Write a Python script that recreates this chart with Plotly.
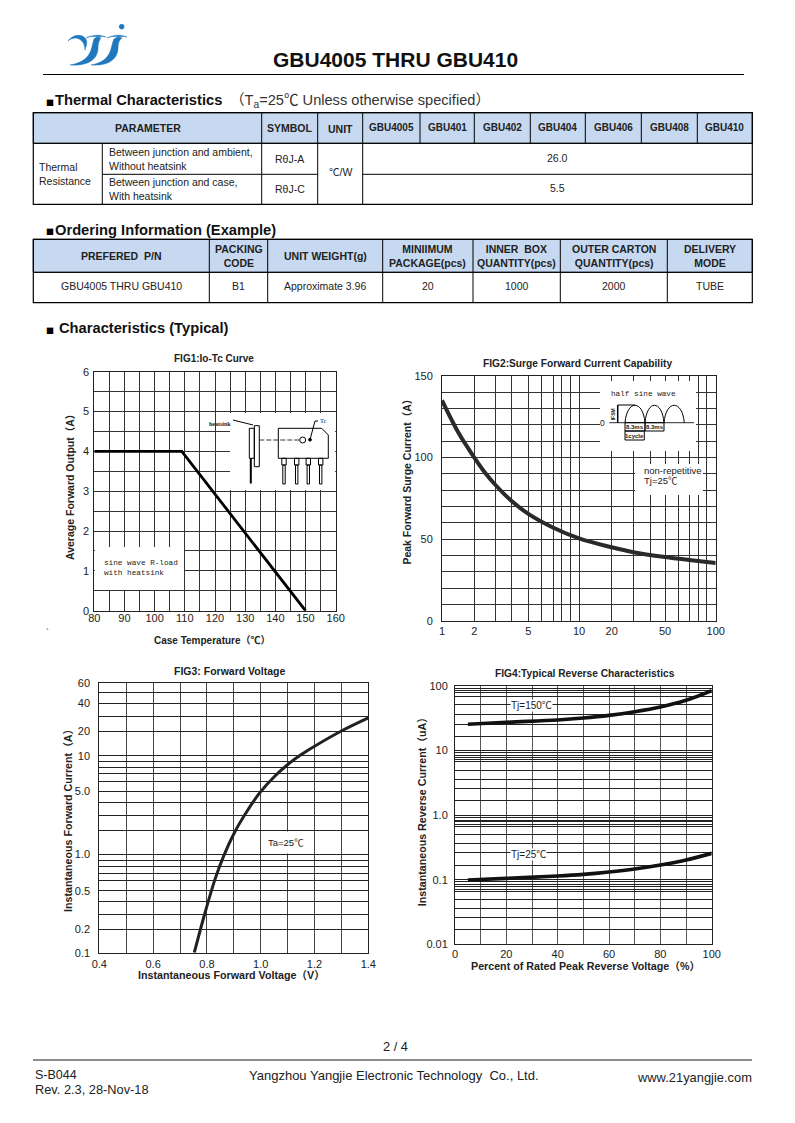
import numpy as np
import plotly.graph_objects as go

# ---------- data ----------
fig1_temp = [80, 109, 150]
fig1_amps = [4, 4, 0]
fig1_xgrid = list(range(80, 165, 5))
fig1_ygrid = [0, 0.5, 1, 1.5, 2, 2.5, 3, 3.5, 4, 4.5, 5, 5.5, 6]
fig1_xlabels = [80, 90, 100, 110, 120, 130, 140, 150, 160]
fig1_ylabels = [0, 1, 2, 3, 4, 5, 6]

# the printed log scales are hand-drawn: label value -> distance along the axis
fig2_scale_vals = [1, 2, 3, 4, 5, 6, 7, 8, 9, 10, 20, 30, 40, 50, 60, 70, 80, 90, 100]
fig2_scale_pos = [141, 238, 300, 349, 400, 440, 475, 500, 525, 552, 650, 715, 765, 810, 850, 882, 910, 935, 962]
fig2_xlabels = [1, 2, 5, 10, 20, 50, 100]
fig2_cycles = [1, 1.5, 2, 2.5, 3, 4, 5, 7, 10, 20, 30, 50, 70, 100]
fig2_amps = [135, 115.5, 100, 91, 83.5, 73.5, 65.5, 57, 50.5, 45, 42, 39, 37.2, 35.4]
fig2_ygrid = list(range(0, 160, 10))
fig2_ylabels = [0, 50, 100, 150]

fig3_scale_vals = [0.1, 0.2, 0.3, 0.4, 0.5, 0.6, 0.7, 0.8, 0.9, 1, 2, 3, 4, 5, 6, 7, 8, 9, 10, 20, 30, 40, 50, 60]
fig3_scale_pos = [878, 808, 764, 724, 692, 661, 639, 620, 601, 582, 511, 467, 427, 393, 365, 341, 322, 304, 287, 214, 170, 130, 98, 68]
fig3_ylabels = {0.1: "0.1", 0.2: "0.2", 0.5: "0.5", 1: "1.0", 5: "5.0", 10: "10", 20: "20", 40: "40", 60: "60"}
fig3_xgrid = [0.4, 0.5, 0.6, 0.7, 0.8, 0.9, 1.0, 1.1, 1.2, 1.3, 1.4]
fig3_xlabels = {0.4: "0.4", 0.6: "0.6", 0.8: "0.8", 1.0: "1.0", 1.2: "1.2", 1.4: "1.4"}
fig3_volts = [0.753, 0.793, 0.83, 0.861, 0.904, 0.948, 0.997, 1.053, 1.103, 1.152, 1.202, 1.30, 1.40]
fig3_amps = [0.1, 0.313, 0.613, 0.955, 1.92, 3.27, 4.84, 6.69, 8.54, 10.4, 13.2, 20.2, 29]

fig4_xgrid = list(range(0, 110, 10))
fig4_xlabels = [0, 20, 40, 60, 80, 100]
fig4_ygrid = [100, 92, 84.7, 78.9, 68.4, 50.8, 35.6, 25.5, 16.4,
              10, 9.3, 8.4, 7.9, 7.15, 6.66, 5.0, 3.59, 2.6, 1.68,
              1, 0.93, 0.84, 0.79, 0.715, 0.666, 0.5, 0.359, 0.26, 0.168,
              0.1, 0.093, 0.084, 0.079, 0.0715, 0.0666, 0.05, 0.0359, 0.026, 0.0168, 0.01]
fig4_ylabels = {100: "100", 10: "10", 1: "1.0", 0.1: "0.1", 0.01: "0.01"}
fig4_pct = [5, 20, 40, 50, 60, 70, 80, 90, 100]
fig4_150 = [25.5, 27.4, 29.8, 31.9, 35.1, 40, 47.3, 60, 84.7]
fig4_25 = [0.0991, 0.105, 0.114, 0.121, 0.132, 0.147, 0.169, 0.202, 0.256]

t1_parts = ["GBU4005", "GBU401", "GBU402", "GBU404", "GBU406", "GBU408", "GBU410"]
t2_head = ["PREFERED  P/N", "PACKING<br>CODE", "UNIT WEIGHT(g)", "MINIIMUM<br>PACKAGE(pcs)",
           "INNER  BOX<br>QUANTITY(pcs)", "OUTER CARTON<br>QUANTITY(pcs)", "DELIVERY<br>MODE"]
t2_row = ["GBU4005 THRU GBU410", "B1", "Approximate 3.96", "20", "1000", "2000", "TUBE"]

# ---------- helpers ----------
W, H = 795, 1123
FONT = "Liberation Sans, Noto Sans CJK SC, sans-serif"
MONO = "Liberation Mono, monospace"
CJK = "Noto Sans CJK SC, sans-serif"
INK = "#222222"
HEAD = "#C6D9F0"
fx = lambda x: x / W
fy = lambda y: 1 - y / H
shapes, notes = [], []


def text(x, y, s, size=10, bold=False, anchor="center", color=INK, family=FONT, angle=0, bg=None, yanchor="middle"):
    notes.append(dict(xref="paper", yref="paper", x=fx(x), y=fy(y), text=f"<b>{s}</b>" if bold else s,
                      showarrow=False, xanchor=anchor, yanchor=yanchor, textangle=angle, align="left" if anchor == "left" else "center",
                      font=dict(size=size, family=family, color=color), bgcolor=bg, borderpad=0))


def rect(x0, y0, x1, y1, fill=None, line="#000000", w=1, layer="above"):
    shapes.append(dict(type="rect", xref="paper", yref="paper", x0=fx(x0), x1=fx(x1), y0=fy(y0), y1=fy(y1),
                       fillcolor=fill if fill else "rgba(0,0,0,0)", line=dict(color=line, width=w), layer=layer))


def seg(x0, y0, x1, y1, color="#000000", w=1, dash="solid"):
    shapes.append(dict(type="line", xref="paper", yref="paper", x0=fx(x0), x1=fx(x1), y0=fy(y0), y1=fy(y1),
                       line=dict(color=color, width=w, dash=dash), layer="above"))


def path(pts, fill=None, color="#000000", w=1):
    """pts: string with page pixel pairs written as x,y; letters kept."""
    out = []
    for tok in pts.split():
        if "," in tok:
            a, b = tok.split(",")
            out.append(f"{fx(float(a)):.5f},{fy(float(b)):.5f}")
        else:
            out.append(tok)
    shapes.append(dict(type="path", xref="paper", yref="paper", path=" ".join(out),
                       fillcolor=fill if fill else "rgba(0,0,0,0)", line=dict(color=color, width=w), layer="above"))


def dot(x, y, r, fill="#000000", line="#000000", w=1):
    shapes.append(dict(type="circle", xref="paper", yref="paper", x0=fx(x - r), x1=fx(x + r), y0=fy(y - r), y1=fy(y + r),
                       fillcolor=fill, line=dict(color=line, width=w), layer="above"))


def mask(xref, yref, box, plot, xr, yr, page):
    """white cut-out painted between grid and curve; page box converted to data units"""
    l, t, r, b = plot
    px0, py0, px1, py1 = page
    shapes.append(dict(type="rect", xref=xref, yref=yref, layer="between", fillcolor="white", line=dict(width=0),
                       x0=xr[0] + (px0 - l) / (r - l) * (xr[1] - xr[0]), x1=xr[0] + (px1 - l) / (r - l) * (xr[1] - xr[0]),
                       y0=yr[0] + (b - py1) / (b - t) * (yr[1] - yr[0]), y1=yr[0] + (b - py0) / (b - t) * (yr[1] - yr[0])))


fig = go.Figure()
GRID = "#333333"
TICK = dict(size=11, family=FONT, color=INK)


def axes(n, plot, xr, yr, xt, xl, yt, yl, ystand, xstand=2, ytype="linear", xgrid=GRID, xw=1, ygrid=GRID, yw=1):
    l, t, r, b = plot
    common = dict(showline=True, mirror=True, linecolor="#222222", linewidth=1, ticks="", tickfont=TICK, tickmode="array",
                  showgrid=True, zeroline=False, automargin=False, tickangle=0)
    fig.update_layout(**{
        f"xaxis{n}": dict(common, domain=[l / W, r / W], range=xr, tickvals=xt, ticktext=xl, anchor=f"y{n}",
                          gridcolor=xgrid, gridwidth=xw, ticklabelstandoff=xstand),
        f"yaxis{n}": dict(common, domain=[1 - b / H, 1 - t / H], range=yr, tickvals=yt, ticktext=yl, anchor=f"x{n}", type=ytype,
                          gridcolor=ygrid, gridwidth=yw, ticklabelstandoff=ystand),
    })


def lab(vals, keep):
    return [(keep[v] if isinstance(keep, dict) else str(v)) if v in keep else "" for v in vals]


# FIG1
P1 = (94.3, 371.7, 335.7, 610.7)
axes(1, P1, [80, 160], [0, 6], fig1_xgrid, lab(fig1_xgrid, fig1_xlabels), fig1_ygrid, lab(fig1_ygrid, fig1_ylabels), 2, xstand=-3)
fig.add_trace(go.Scatter(x=fig1_temp, y=fig1_amps, mode="lines", line=dict(color="#000000", width=2.8), xaxis="x1", yaxis="y1"))
mask("x1", "y1", None, P1, [80, 160], [0, 6], (230, 413, 335.2, 490))
mask("x1", "y1", None, P1, [80, 160], [0, 6], (94.8, 547, 184, 590))

# FIG2
P2 = (442, 376, 715.7, 620.7)
f2x = lambda v: np.interp(v, fig2_scale_vals, fig2_scale_pos)
axes(2, P2, [141, 962], [0, 150], fig2_scale_pos, lab(fig2_scale_vals, fig2_xlabels), fig2_ygrid, lab(fig2_ygrid, fig2_ylabels), 6, xstand=0)
fig.add_trace(go.Scatter(x=f2x(fig2_cycles), y=fig2_amps, mode="lines", line=dict(color="#2a2a2a", width=4, shape="spline"), xaxis="x2", yaxis="y2"))
mask("x2", "y2", None, P2, [141, 962], [0, 150], (600, 381, 696, 451))
mask("x2", "y2", None, P2, [141, 962], [0, 150], (635, 464, 703, 495))

# FIG3
P3 = (99.3, 682.7, 368.3, 952.7)
f3y = lambda v: np.interp(np.log10(v), np.log10(fig3_scale_vals), fig3_scale_pos)
axes(3, P3, [0.4, 1.4], [878, 68], fig3_xgrid, lab(fig3_xgrid, fig3_xlabels), fig3_scale_pos, lab(fig3_scale_vals, fig3_ylabels), 6, xstand=1,
     xgrid="#444444", xw=1.4, ygrid="#222222", yw=1)
fig.add_trace(go.Scatter(x=fig3_volts, y=f3y(fig3_amps), mode="lines", line=dict(color="#222222", width=3, shape="spline"), xaxis="x3", yaxis="y3"))
mask("x3", "y3", None, P3, [0.4, 1.4], [878, 68], (262, 831.5, 308, 853.5))

# FIG4
P4 = (455, 686, 711.7, 944.3)
axes(4, P4, [0, 100], [-2, 2], fig4_xgrid, lab(fig4_xgrid, fig4_xlabels), fig4_ygrid, lab(fig4_ygrid, fig4_ylabels), 4, xstand=-1, ytype="log",
     xgrid="#555555", xw=1.2, ygrid="#222222", yw=1)
for ys in (fig4_150, fig4_25):
    fig.add_trace(go.Scatter(x=fig4_pct, y=ys, mode="lines", line=dict(color="#111111", width=3.6, shape="spline"), xaxis="x4", yaxis="y4"))

# figure titles and axis titles
text(213.7, 358.7, "FIG1:Io-Tc Curve", 10, True)
text(577.3, 363.7, "FIG2:Surge Forward Current Capability", 10.2, True)
text(229, 671, "FIG3: Forward Voltage", 10.5, True)
text(585, 673.3, "FIG4:Typical Reverse Characteristics", 10.2, True)
text(212.7, 640, "Case Temperature（℃）", 10, True)
text(70.7, 484.3, "Average Forward Output（A）", 10.5, True, angle=-90)
text(407.3, 479.3, "Peak Forward Surge Current（A）", 10.5, True, angle=-90)
text(231.7, 975, "Instantaneous Forward Voltage（V）", 10.7, True)
text(67.3, 817.7, "Instantaneous Forward Current（A）", 10.7, True, angle=-90)
text(585, 966, "Percent of Rated Peak Reverse Voltage（%）", 10.7, True)
text(422.3, 809, "Instantaneous Reverse Current（uA）", 10.7, True, angle=-90)
text(47, 632, "`", 9)

# FIG1 inset
text(103, 563.3, "sine wave R-load", 7.7, anchor="left", family=MONO)
text(103, 572.7, "with heatsink", 7.7, anchor="left", family=MONO)
text(208, 424, "heatsink", 6, True, anchor="left", family="Liberation Serif")
seg(233, 420, 253, 425)
rect(254.3, 425.7, 259.3, 466.7)
rect(249.3, 428.3, 254.3, 458.3)
seg(250.8, 458.3, 250.8, 483.5, w=2)
seg(259.3, 440, 300, 440, dash="5px,2px", color="#333333")
path("M 278.3,428.3 L 321.7,428.3 L 328.3,435 L 328.3,458.3 L 278.3,458.3 Z")
dot(302.7, 440, 3, fill="white")
dot(310, 439.7, 1.4)
path("M 310,439.7 L 315,421 L 318,421")
text(318.5, 421, "Tc", 6.5, anchor="left", family="Liberation Serif")
for cx in (284, 296.7, 308.3, 320.7):
    rect(cx - 2.2, 458.3, cx + 2.2, 465)
    rect(cx - 1.2, 465, cx + 1.2, 484)

# FIG2 inset
text(610, 394, "half sine wave", 7.7, anchor="left", family=MONO)
seg(609.3, 422.7, 694, 422.7, color="#555555", w=1.2)
text(602, 423, "0", 8.5)
for a, b in ((625, 645), (645, 664), (664, 684.3)):
    path(f"M {a},422.7 C {a + 2},399.5 {b - 2},399.5 {b},422.7")
seg(617.7, 405, 617.7, 422.7, w=1.5)
seg(617.7, 405, 635, 405, w=1)
text(613.3, 414, "IFSM", 5, True, angle=-90)
for a, b in ((625, 645), (645, 664)):
    rect(a, 422.7, b, 431)
    text((a + b) / 2, 427.2, "8.3ms", 6, True)
rect(625, 431, 644.3, 440)
text(634.7, 436, "1cycle", 6, True)
text(643.3, 470.7, "non-repetitive", 9.5, anchor="left")
text(643.3, 480.7, "Tj=25℃", 9.5, anchor="left")

# FIG3, FIG4 notes
text(266.7, 842.7, "Ta=25℃", 9.5, anchor="left")
text(510, 705, "Tj=150℃", 10, anchor="left", bg="white")
text(510, 854, "Tj=25℃", 10, anchor="left", bg="white")

# page title and logo
text(395, 60, "GBU4005 THRU GBU410", 21, True, color="#111111")
seg(43, 74.5, 744, 74.5, w=1.2)
BLUE = "#1F78BE"
dot(121.7, 26.7, 2.3, fill=BLUE, line=BLUE)
path("M 68,41 C 72,35 80,34 84,37 C 89,41 86,46 85,50 C 85,44 82,39 76,38 C 73,38 70,39 68,41 Z", fill=BLUE, color=BLUE, w=0.5)
path("M 86,38 C 92,35 99,34 106,37 C 99,36 96,37 94,39 C 91,47 93,61 70,65 C 84,66 97,62 98,49 C 98,44 99,40 101,38 C 96,36 90,36 86,38 Z", fill=BLUE, color=BLUE, w=0.5)
path("M 107,38 C 113,35 120,34 127,37 C 120,36 117,37 114,39 C 110,47 113,61 91,65 C 104,66 117,62 118,49 C 118,44 119,40 122,38 C 117,36 111,36 107,38 Z", fill=BLUE, color=BLUE, w=0.5)

# section headings
text(45, 102.5, "■", 8, anchor="left", color="#000000", family=CJK)
text(54, 100.5, "Thermal Characteristics", 14.7, True, anchor="left", color="#111111")
text(229, 101, "（T<sub>a</sub>=25℃ Unless otherwise specified）", 14.6, anchor="left", color="#333333")
text(45, 231.5, "■", 8, anchor="left", color="#000000", family=CJK)
text(54, 230, "Ordering Information (Example)", 14.7, True, anchor="left", color="#111111")
text(45, 330.5, "■", 8, anchor="left", color="#000000", family=CJK)
text(58, 328, "Characteristics (Typical)", 14.7, True, anchor="left", color="#111111")

# thermal table
X1 = [33.3, 261.7, 317.7, 362.7, 420, 474.3, 530.3, 585.3, 641.3, 697.3, 752.3]
Y1 = [112.7, 143.3, 174.3, 204.3]
rect(X1[0], Y1[0], X1[-1], Y1[1], fill=HEAD)
rect(X1[0], Y1[0], X1[-1], Y1[-1], w=1.2)
for x in X1[1:-1]:
    seg(x, Y1[0], x, Y1[1])
for x in X1[1:4]:
    seg(x, Y1[1], x, Y1[3])
seg(102.3, Y1[1], 102.3, Y1[3])
seg(X1[0], Y1[1], X1[-1], Y1[1])
seg(102.3, Y1[2], X1[2], Y1[2])
seg(X1[3], Y1[2], X1[-1], Y1[2])
text(148, 128, "PARAMETER", 10.5, True)
text(289.7, 128, "SYMBOL", 10.5, True)
text(340, 129, "UNIT", 10.5, True)
for i, name in enumerate(t1_parts):
    text((X1[3 + i] + X1[4 + i]) / 2, 127.5, name, 10, True)
text(38, 174, "Thermal<br>Resistance", 10.5, anchor="left")
text(108, 159, "Between junction and ambient,<br>Without heatsink", 10.5, anchor="left")
text(108, 189, "Between junction and case,<br>With heatsink", 10.5, anchor="left")
text(289.7, 158.5, "RθJ-A", 10.5)
text(289.7, 189.5, "RθJ-C", 10.5)
text(340, 172, "℃/W", 10.5)
text(557.5, 158, "26.0", 10.5)
text(557.5, 188.5, "5.5", 10.5)

# ordering table
X2 = [33.3, 209.3, 267.7, 382.7, 473, 560.3, 667.3, 752.3]
Y2 = [239.3, 272.3, 302.7]
rect(X2[0], Y2[0], X2[-1], Y2[1], fill=HEAD)
rect(X2[0], Y2[0], X2[-1], Y2[-1], w=1.2)
for x in X2[1:-1]:
    seg(x, Y2[0], x, Y2[-1])
seg(X2[0], Y2[1], X2[-1], Y2[1])
for i in range(7):
    cx = (X2[i] + X2[i + 1]) / 2
    text(cx, 256, t2_head[i], 10.5, True)
    text(cx, 286.5, t2_row[i], 10.5)

# footer
text(395, 1046, "2 / 4", 12.8)
seg(33, 1060, 752, 1060, color="#666666", w=1.6)
text(33.5, 1075, "S-B044", 12.5, anchor="left")
text(33.5, 1089.5, "Rev. 2.3, 28-Nov-18", 12.8, anchor="left")
text(393.5, 1075.5, "Yangzhou Yangjie Electronic Technology  Co., Ltd.", 13)
text(752.5, 1077, "www.21yangjie.com", 12.9, anchor="right")

fig.update_layout(width=W, height=H, autosize=False, margin=dict(l=0, r=0, t=0, b=0), showlegend=False,
                  paper_bgcolor="white", plot_bgcolor="white", font=dict(family=FONT), shapes=shapes, annotations=notes)
fig.write_html("out.html", post_script="document.body.style.margin='0';", config=dict(displayModeBar=False))
